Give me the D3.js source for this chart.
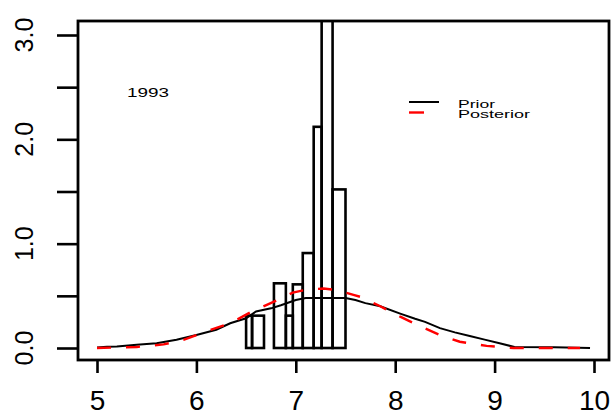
<!DOCTYPE html>
<html lang="en">
<head>
<meta charset="utf-8">
<title>1993 prior / posterior</title>
<script src="https://cdn.jsdelivr.net/npm/d3@7"></script>
<style>
  html, body { margin: 0; padding: 0; background: white; }
  svg { display: block; font-family: "Liberation Sans", Arial, sans-serif; }
</style>
</head>
<body>
<script>
// histogram: bin edges and density heights
var histBreaks = [6.5, 6.56, 6.68, 6.78, 6.9, 6.97, 7.07, 7.18, 7.26, 7.37, 7.5];
var histDensity = [0.31, 0.31, 0, 0.62, 0.31, 0.61, 0.91, 2.12, 3.33, 1.52];

// prior curve (black, solid)
var priorX = [5.0, 5.1, 5.2, 5.4, 5.6, 5.8, 6.0, 6.2, 6.34, 6.5, 6.6, 6.75, 6.85, 7.0, 7.1, 7.3, 7.5, 7.6, 7.7, 7.85, 8.05, 8.2, 8.3, 8.45, 8.6, 8.75, 8.9, 9.05, 9.2, 9.6, 9.96];
var priorY = [0.005, 0.013, 0.015, 0.03, 0.045, 0.08, 0.125, 0.175, 0.237, 0.285, 0.35, 0.38, 0.41, 0.46, 0.48, 0.48, 0.48, 0.46, 0.43, 0.40, 0.33, 0.28, 0.25, 0.19, 0.15, 0.115, 0.08, 0.045, 0.01, 0.008, 0.0];

// posterior curve (red, dashed)
var postX = [5.0, 5.4, 5.67, 5.87, 6.1, 6.34, 6.54, 6.77, 6.97, 7.11, 7.28, 7.41, 7.58, 7.65, 7.85, 8.05, 8.25, 8.45, 8.65, 8.92, 9.19, 9.86];
var postY = [0, 0.01, 0.035, 0.077, 0.16, 0.237, 0.34, 0.44, 0.53, 0.56, 0.57, 0.556, 0.51, 0.49, 0.40, 0.30, 0.21, 0.125, 0.06, 0.02, 0.0, 0.0];

var xTicks = [5, 6, 7, 8, 9, 10];
var yTicks = [0, 0.5, 1, 1.5, 2, 2.5, 3];
var yLabels = ["0.0", "1.0", "2.0", "3.0"];
var yLabelValues = [0, 1, 2, 3];
var legendNames = ["Prior", "Posterior"];
var yearLabel = "1993";

var w = 614, h = 420;
var box = {left: 78, right: 609, top: 21, bottom: 360};

var x = d3.scaleLinear().domain([5, 10]).range([97, 594]);
var y = d3.scaleLinear().domain([0, 3]).range([348, 35]);

var svg = d3.select("body").append("svg")
  .attr("width", w)
  .attr("height", h);

svg.append("clipPath").attr("id", "plotclip")
  .append("rect")
  .attr("x", box.left).attr("y", box.top)
  .attr("width", box.right - box.left).attr("height", box.bottom - box.top);

var plot = svg.append("g").attr("clip-path", "url(#plotclip)");

//histogram bars, no fill
var bins = histDensity.map(function(d, i) {
  return {x0: histBreaks[i], x1: histBreaks[i + 1], d: d};
});
plot.selectAll("rect.bar")
  .data(bins)
  .enter()
  .append("rect")
  .attr("class", "bar")
  .attr("x", function(b) { return x(b.x0); })
  .attr("width", function(b) { return x(b.x1) - x(b.x0); })
  .attr("y", function(b) { return y(b.d); })
  .attr("height", function(b) { return y(0) - y(b.d); })
  .attr("fill", "none")
  .attr("stroke", "black")
  .attr("stroke-width", 2.6);

var line = d3.line()
  .x(function(d) { return x(d[0]); })
  .y(function(d) { return y(d[1]); });

plot.append("path")
  .datum(d3.zip(priorX, priorY))
  .attr("d", line)
  .attr("fill", "none")
  .attr("stroke", "black")
  .attr("stroke-width", 2);

plot.append("path")
  .datum(d3.zip(postX, postY))
  .attr("d", line)
  .attr("fill", "none")
  .attr("stroke", "#ff0000")
  .attr("stroke-width", 2.4)
  .attr("stroke-dasharray", "14,15");

//frame
svg.append("rect")
  .attr("x", box.left).attr("y", box.top)
  .attr("width", box.right - box.left).attr("height", box.bottom - box.top)
  .attr("fill", "none")
  .attr("stroke", "black")
  .attr("stroke-width", 2.8);

//x axis
var xAxis = d3.axisBottom(x).tickValues(xTicks).tickSize(13).tickPadding(17).tickFormat(d3.format("d"));
var gx = svg.append("g").attr("transform", "translate(0," + box.bottom + ")").call(xAxis);
gx.select(".domain").remove();
gx.selectAll("line").attr("stroke-width", 2.6);
gx.selectAll("text")
  .attr("font-family", "Liberation Sans, Arial, sans-serif")
  .attr("font-size", 28)
  .attr("fill", "black");

//y axis ticks, labels drawn rotated below
var yAxis = d3.axisLeft(y).tickValues(yTicks).tickSize(21).tickFormat("");
var gy = svg.append("g").attr("transform", "translate(" + box.left + ",0)").call(yAxis);
gy.select(".domain").remove();
gy.selectAll("line").attr("stroke-width", 2.6);

svg.selectAll("text.ylab")
  .data(yLabelValues)
  .enter()
  .append("text")
  .attr("class", "ylab")
  .attr("transform", function(d) { return "translate(33," + y(d) + ") rotate(-90)"; })
  .attr("text-anchor", "middle")
  .attr("font-size", 25)
  .text(function(d, i) { return yLabels[i]; });

//year label
svg.append("text")
  .attr("x", 127)
  .attr("y", 97)
  .attr("font-size", 12)
  .attr("textLength", 42)
  .attr("lengthAdjust", "spacingAndGlyphs")
  .text(yearLabel);

//legend
var legendLines = [
  {name: legendNames[0], color: "black", dash: null, width: 2},
  {name: legendNames[1], color: "#ff0000", dash: "15,15", width: 2.4}
];
var legendTextLen = [37, 72];
var lg = svg.append("g");
legendLines.forEach(function(l, i) {
  var ly = 102 + i * 10.5;
  lg.append("line")
    .attr("x1", 409).attr("x2", 439)
    .attr("y1", ly).attr("y2", ly)
    .attr("stroke", l.color)
    .attr("stroke-width", l.width)
    .attr("stroke-dasharray", l.dash);
  lg.append("text")
    .attr("x", 458)
    .attr("y", ly + 5.5)
    .attr("font-size", 11)
    .attr("textLength", legendTextLen[i])
    .attr("lengthAdjust", "spacingAndGlyphs")
    .text(l.name);
});
</script>
</body>
</html>
